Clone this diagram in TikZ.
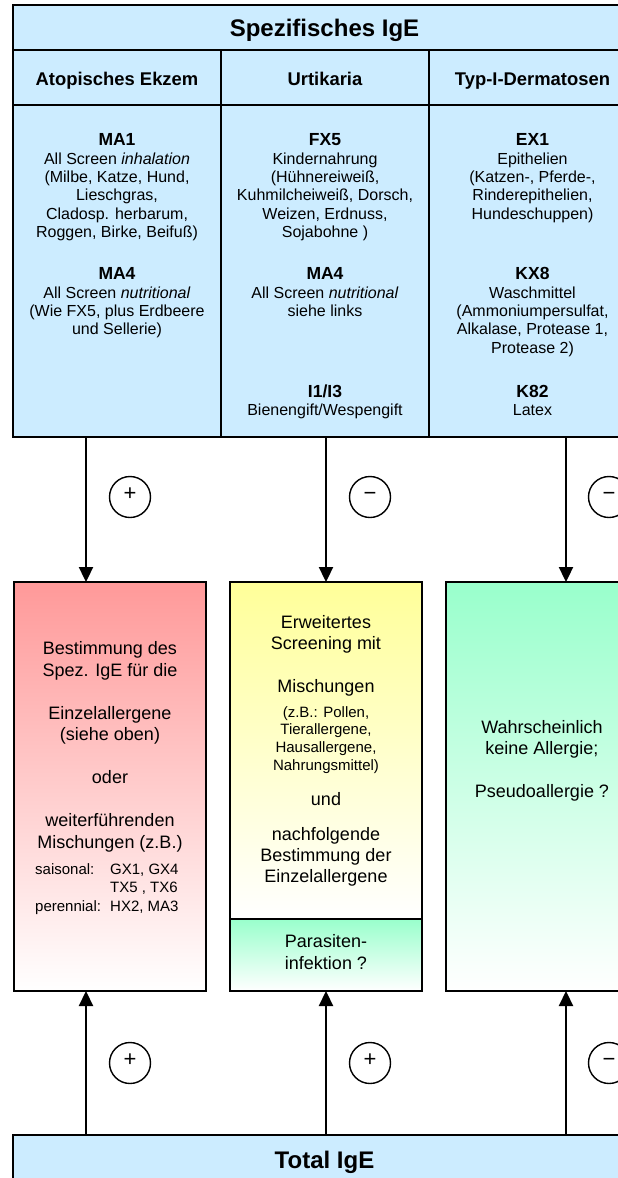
\documentclass[tikz,border=0pt]{standalone}
\usepackage{fontspec}
\setmainfont{Liberation Sans}
\usetikzlibrary{arrows.meta}
\definecolor{ltblue}{HTML}{CCECFF}
\definecolor{rosa}{HTML}{FF9999}
\definecolor{gelb}{HTML}{FFFF99}
\definecolor{mint}{HTML}{99FFCC}
\newcommand\hdl[1]{\rule{0pt}{14pt}{\fontsize{17.5}{18.4}\selectfont\bfseries #1}}
\newcommand\stt[1]{\rule{0pt}{#1pt}}
\begin{document}
\begin{tikzpicture}[x=1pt,y=-1pt,
  cell/.style={draw, line width=2pt, fill=ltblue, anchor=north west, inner sep=0pt, outer sep=0pt},
  grp/.style={align=center, inner sep=0pt, anchor=north, font=\fontsize{16}{18.4}\selectfont},
  big/.style={align=center, inner sep=0pt, anchor=north, font=\fontsize{18}{21.5}\selectfont},
  small/.style={align=center, inner sep=0pt, anchor=north, font=\fontsize{15}{17.7}\selectfont},
  lowbox/.style={draw=black, line width=2pt, anchor=north west, inner sep=0pt, outer sep=0pt, minimum width=192pt},
  arr/.style={line width=2.3pt, -{Triangle[width=14pt,length=15pt]}},
  sign/.style={circle, draw, line width=1.4pt, minimum size=41pt, inner sep=0pt, font=\fontsize{22}{22}\selectfont, text height=0.7em, text depth=0pt},
  hdr/.style={anchor=base, inner sep=0pt, font=\fontsize{18.4}{20}\selectfont\bfseries},
  ttl/.style={anchor=base, inner sep=0pt, font=\fontsize{24}{26}\selectfont\bfseries}]
\useasboundingbox (0,0) rectangle (618,1178);
\clip (0,0) rectangle (618,1178);
\fill[white] (0,0) rectangle (618,1178);

% top table
\node[cell, minimum width=623pt, minimum height=45.3pt] (title) at (13,4.7) {};
\node[cell, minimum width=208pt, minimum height=55pt] (hA) at (13,50) {};
\node[cell, minimum width=208pt, minimum height=55pt] (hB) at (221,50) {};
\node[cell, minimum width=208pt, minimum height=55pt] (hC) at (429,50) {};
\node[cell, minimum width=208pt, minimum height=332pt] (cA) at (13,105) {};
\node[cell, minimum width=208pt, minimum height=332pt] (cB) at (221,105) {};
\node[cell, minimum width=208pt, minimum height=332pt] (cC) at (429,105) {};

\node[ttl] (ttltext) at (324.5,36.5) {Spezifisches IgE};
\node[hdr] (hAt) at (117,85.6) {Atopisches Ekzem};
\node[hdr] (hBt) at (325,85.6) {Urtikaria};
\node[hdr] (hCt) at (532.5,85.6) {Typ-I-Dermatosen};

\node[grp] (g1) at (117,131.5) {\hdl{MA1}\\All Screen \textit{inhalation}\\(Milbe, Katze, Hund,\\Lieschgras,\\Cladosp. herbarum,\\Roggen, Birke, Beifuß)};
\node[grp] (g2) at (117,265.5) {\hdl{MA4}\\All Screen \textit{nutritional}\\(Wie FX5, plus Erdbeere\\und Sellerie)};
\node[grp] (g3) at (325,131.5) {\hdl{FX5}\\Kindernahrung\\(Hühnereiweiß,\\Kuhmilcheiweiß, Dorsch,\\Weizen, Erdnuss,\\Sojabohne )};
\node[grp] (g4) at (325,265.5) {\hdl{MA4}\\All Screen \textit{nutritional}\\siehe links};
\node[grp] (g5) at (325,383) {\hdl{I1/I3}\\Bienengift/Wespengift};
\node[grp] (g6) at (532.5,131.5) {\hdl{EX1}\\Epithelien\\(Katzen-, Pferde-,\\Rinderepithelien,\\Hundeschuppen)};
\node[grp] (g7) at (532.5,265.5) {\hdl{KX8}\\Waschmittel\\(Ammoniumpersulfat,\\Alkalase, Protease 1,\\Protease 2)};
\node[grp] (g8) at (532.5,383) {\hdl{K82}\\Latex};

% lower boxes
\node[lowbox, minimum height=409pt, top color=rosa, bottom color=white] (lowA) at (14,582) {};
\node[lowbox, minimum height=337pt, top color=gelb, bottom color=white] (lowB) at (230,582) {};
\node[lowbox, minimum height=72pt, top color=mint, bottom color=white] (par) at (230,919) {};
\node[lowbox, minimum height=409pt, top color=mint, bottom color=white] (lowC) at (446,582) {};

\node[big] (ta1) at (110,639.5) {\stt{15}Bestimmung des\\Spez. IgE für die\\[21.5pt]Einzelallergene\\(siehe oben)\\[21.5pt]oder\\[21.5pt]weiterführenden\\Mischungen (z.B.)};
\node[anchor=north west, inner sep=0pt, font=\fontsize{15}{18.5}\selectfont] (ta2) at (35,861)
  {\begin{tabular}{@{}p{75pt}@{}l@{}}saisonal: & GX1, GX4\\ & TX5 , TX6\\ perennial: & HX2, MA3\end{tabular}};

\node[big] (tb1) at (326,613) {\stt{15}Erweitertes\\Screening mit\\[21.5pt]Mischungen};
\node[small] (tb2) at (326,704) {\stt{13}(z.B.: Pollen,\\Tierallergene,\\Hausallergene,\\Nahrungsmittel)};
\node[big] (tb3) at (326,790.5) {\stt{15}und};
\node[big, font=\fontsize{18}{21}\selectfont] (tb4) at (326,825.5) {\stt{15}nachfolgende\\Bestimmung der\\Einzelallergene};
\node[big] (tp) at (326,932.5) {\stt{15}Parasiten-\\infektion ?};

\node[big] (tc) at (542,718) {\stt{15}Wahrscheinlich\\keine Allergie;\\[21.5pt]Pseudoallergie ?};

% total
\node[cell, minimum width=623pt, minimum height=60pt] (tot) at (13,1135) {};
\node[ttl] (tottext) at (324.5,1168) {Total IgE};

% arrows top
\draw[arr] ([xshift=73pt]cA.south west) -- ([xshift=72pt]lowA.north west);
\draw[arr] (lowB.north |- cB.south) -- (lowB.north);
\draw[arr] ([xshift=137pt]cC.south west) -- ([xshift=120pt]lowC.north west);
% arrows bottom
\draw[arr] ([xshift=72pt]lowA.south west |- tot.north) -- ([xshift=72pt]lowA.south west);
\draw[arr] (par.south |- tot.north) -- (par.south);
\draw[arr] ([xshift=120pt]lowC.south west |- tot.north) -- ([xshift=120pt]lowC.south west);

% signs
\node[sign] (s1) at (130,497) {+};
\node[sign] (s2) at (370,497) {−};
\node[sign] (s3) at (609,497) {−};
\node[sign] (s4) at (130,1063) {+};
\node[sign] (s5) at (370,1063) {+};
\node[sign] (s6) at (609,1063) {−};
\end{tikzpicture}
\end{document}
